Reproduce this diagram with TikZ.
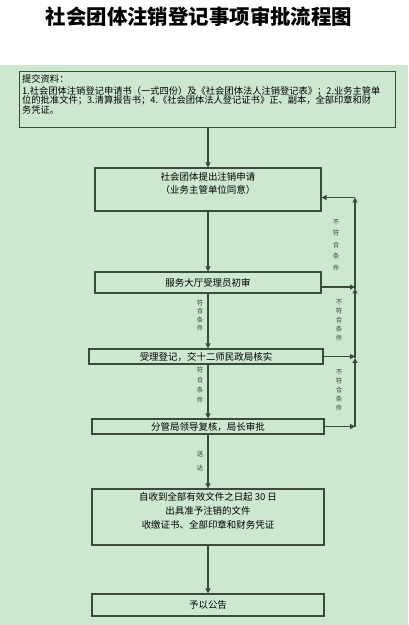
\documentclass[tikz,border=0pt]{standalone}
\usepackage{fontspec}
\setmainfont{Noto Sans CJK SC}
\usetikzlibrary{arrows.meta, positioning, calc}
\definecolor{pagegreen}{RGB}{205, 232, 208}
\definecolor{lineink}{RGB}{60, 74, 62}

\begin{document}
\begin{tikzpicture}[x=1bp, y=-1bp,
    stepbox/.style={draw=lineink, line width=1.1pt, inner sep=1pt, align=center,
      font=\fontsize{9.5}{13}\selectfont},
    flow/.style={draw=lineink, line width=1.1pt, -{Triangle[length=5pt, width=5pt]}},
    vnote/.style={inner sep=0pt, align=center, text=black!75}]
  \useasboundingbox (0,0) rectangle (408,625);
  \fill[pagegreen] (0,65) rectangle (408,625);
  \node[font=\fontsize{20.5}{24}\selectfont\bfseries] (title) at (199,17) {社会团体注销登记事项审批流程图};

  % materials
  \node[stepbox, anchor=north west, minimum width=376bp, minimum height=56bp] (docs) at (19,71) {};
  \node[anchor=north west, inner sep=0pt, align=left, font=\fontsize{9.3}{10}\selectfont]
    (docstext) at ([shift={(3,3)}]docs.north west)
    {提交资料：\\[2bp]
     1.社会团体注销登记申请书（一式四份）及《社会团体法人注销登记表》；2.业务主管单\\
     位的批准文件；3.清算报告书；4.《社会团体法人登记证书》正、副本，全部印章和财\\
     务凭证。};

  % main steps
  \node[stepbox, minimum width=226bp, minimum height=43bp] (apply) at (208,189.5)
    {社会团体提出注销申请\\（业务主管单位同意）\\ \mbox{}};
  \node[stepbox, minimum width=226bp, minimum height=21bp] (intake) at (208,282.5) {服务大厅受理员初审};
  \node[stepbox, minimum width=234bp, minimum height=15bp] (register) at (206,356.5) {受理登记，交十二师民政局核实};
  \node[stepbox, minimum width=232bp, minimum height=15bp] (review) at (208,426.5) {分管局领导复核，局长审批};
  \node[stepbox, minimum width=232bp, minimum height=56bp, font=\fontsize{9.5}{14}\selectfont] (issue) at (208,517)
    {自收到全部有效文件之日起 30 日\\出具准予注销的文件\\收缴证书、全部印章和财务凭证\\ \mbox{}};
  \node[stepbox, minimum width=232bp, minimum height=22bp] (notice) at (208,605) {予以公告};

  \draw[flow] (apply.north |- docs.south) -- (apply.north);
  \draw[flow] (apply) -- (intake);
  \draw[flow] (intake.south) -- (intake.south |- register.north);
  \draw[flow] (intake.south |- register.south) -- (intake.south |- review.north);
  \draw[flow] (intake.south |- review.south) -- (intake.south |- issue.north);
  \draw[flow] (issue) -- (notice);

  % return path on the right
  \coordinate (rail) at (355,197.5);
  \coordinate (out1) at ($(intake.east)+(0,4.5)$);
  \draw[flow] (out1) -- (out1 -| rail);
  \draw[flow] (register.east) -- (register.east -| rail);
  \draw[flow] (review.east) -- (review.east -| rail);
  \draw[flow] (review.east -| rail) -- ($(register.east -| rail)+(0,1.5)$);
  \draw[flow] ($(register.east -| rail)+(0,1.5)$) -- ($(out1 -| rail)+(0,1.5)$);
  \draw[flow] ($(out1 -| rail)+(0,1.5)$) -- (rail);
  \draw[flow] (rail) -- (rail -| apply.east);

  % branch notes
  \node[vnote, font=\fontsize{6.5}{11.5}\selectfont] (no1) at (336,245) {不\\符\\合\\条\\件};
  \node[vnote, font=\fontsize{6.5}{8.5}\selectfont] (yes1) at (200,315.5) {符\\合\\条\\件};
  \node[vnote, font=\fontsize{6.5}{9}\selectfont] (no2) at (339,320) {不\\符\\合\\条\\件};
  \node[vnote, font=\fontsize{6.5}{10}\selectfont] (yes2) at (200,385) {符\\合\\条\\件};
  \node[vnote, font=\fontsize{6.5}{9}\selectfont] (no3) at (339,390) {不\\符\\合\\条\\件};
  \node[vnote, font=\fontsize{6.5}{14}\selectfont] (send) at (200,461) {送\\达};
\end{tikzpicture}
\end{document}
